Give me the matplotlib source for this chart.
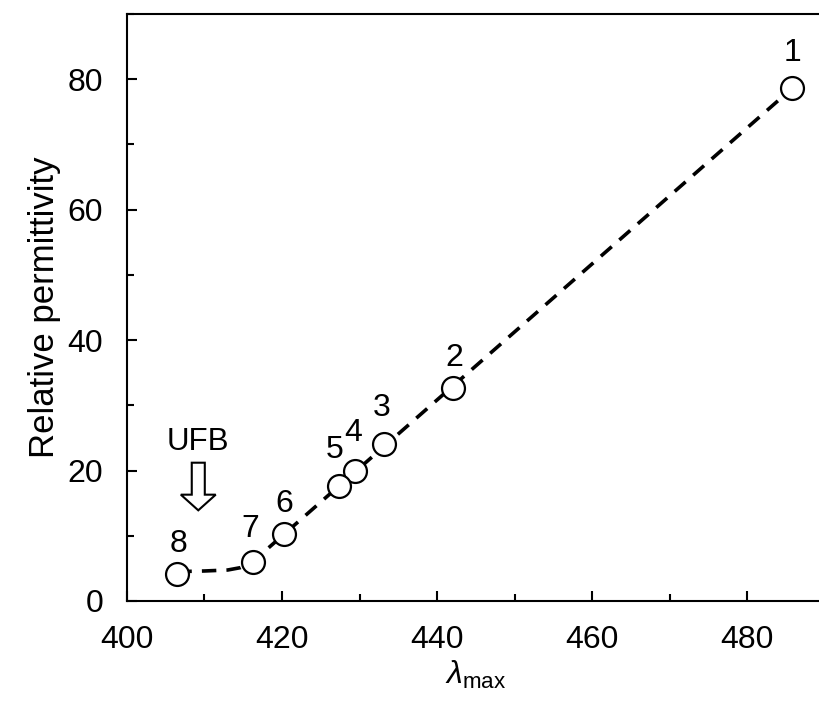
import matplotlib
matplotlib.use('Agg')
import matplotlib.pyplot as plt
from matplotlib.patches import FancyArrow
from matplotlib.ticker import MultipleLocator

plt.rcParams['font.family'] = ['Liberation Sans', 'DejaVu Sans']
plt.rcParams['mathtext.fontset'] = 'custom'
plt.rcParams['mathtext.rm'] = 'Liberation Sans'
plt.rcParams['mathtext.it'] = 'Liberation Sans:italic'

# solvent points: lambda_max (nm) vs relative permittivity
labels = ['1', '2', '3', '4', '5', '6', '7', '8']
lambda_max = [485.8, 442.1, 433.1, 429.4, 427.4, 420.2, 416.2, 406.5]
permittivity = [78.6, 32.6, 24.1, 20.0, 17.6, 10.2, 6.0, 4.2]

# guide line (dashed)
guide_x = [406.5, 410.0, 413.0, 414.6, 416.2, 485.8]
guide_y = [4.5, 4.6, 4.75, 5.1, 6.0, 78.6]

# label offsets in pixels (dx, dy)
label_offsets = [(0, 35), (1, 30), (-2, 36), (-2, 38), (-5, 36), (1, 30), (-2, 33), (1, 30)]

fig = plt.figure(figsize=(8.19, 7.02), dpi=100)
ax = fig.add_axes([0.155, 0.1439, 0.852, 0.8362])

ax.plot(guide_x, guide_y, color='black', linestyle=(0, (4, 2.8)), linewidth=2.6, zorder=2)
ax.plot(lambda_max, permittivity, linestyle='none', marker='o', markersize=16.5,
        markerfacecolor='white', markeredgecolor='black', markeredgewidth=1.6, zorder=3)

for lab, x, y, (dx, dy) in zip(labels, lambda_max, permittivity, label_offsets):
    ax.annotate(lab, xy=(x, y), xytext=(dx * 0.72, dy * 0.72), textcoords='offset points',
                ha='center', va='center', fontsize=23)

ax.text(409.2, 24.4, 'UFB', ha='center', va='center', fontsize=22.5)
ax.add_patch(FancyArrow(409.2, 21.2, 0, -7.3, width=1.68, head_width=4.5,
                        head_length=2.4, length_includes_head=True,
                        facecolor='white', edgecolor='black', linewidth=1.5, zorder=4))

ax.set_xlim(400, 490)
ax.set_ylim(0, 90)
ax.xaxis.set_major_locator(MultipleLocator(20))
ax.xaxis.set_minor_locator(MultipleLocator(10))
ax.yaxis.set_minor_locator(MultipleLocator(10))
ax.set_yticks([0, 20, 40, 60, 80])
ax.tick_params(which='both', direction='in', width=1.5, labelsize=23)
ax.tick_params(axis='x', which='both', pad=17)
ax.tick_params(axis='y', which='both', pad=17)
ax.tick_params(which='major', length=7.2)
ax.tick_params(which='minor', length=5)
for s in ax.spines.values():
    s.set_linewidth(1.5)

ax.set_xlabel(r'$\it{\lambda}_{\rm max}$', fontsize=23, labelpad=3)
ax.set_ylabel('Relative permittivity', fontsize=25, labelpad=5)

fig.savefig('out.png', dpi=100)
